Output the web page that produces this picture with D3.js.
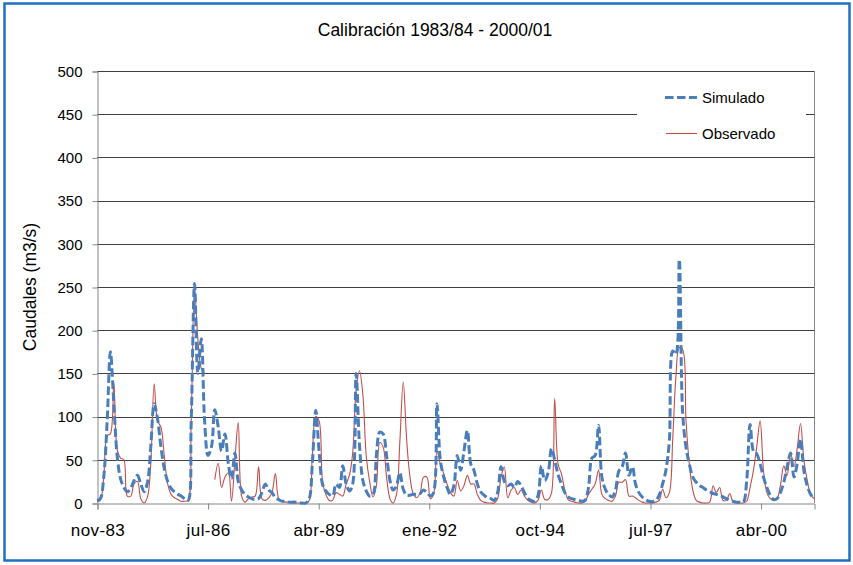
<!DOCTYPE html>
<html>
<head>
<meta charset="utf-8">
<script src="https://cdn.jsdelivr.net/npm/d3@7"></script>
<style>
  html, body { margin: 0; padding: 0; background: #fff; }
  svg { display: block; font-family: "Liberation Sans", Arial, sans-serif; }
</style>
</head>
<body>
<svg id="chart" width="853" height="565"></svg>
<script>
// ---- DATA (monthly, starting nov-83) ----
const startMonth = new Date(1983, 10, 1);
const seriesNames = ["Simulado", "Observado"];
const simulado = [
  3,5,30,95,175,115,55,28,18,13,17,26,32,22,13,25,65,115,98,65,
  40,25,17,13,10,8,5,3,90,254,150,190,95,55,65,108,88,60,80,45,
  28,58,25,15,10,7,5,4,5,12,22,15,12,6,4,2,2,1,1,1,
  0,0,0,5,45,107,60,22,14,10,8,22,18,43,22,14,22,150,68,26,
  14,8,10,55,82,80,55,26,15,20,35,16,9,9,10,10,11,15,12,8,
  12,115,50,30,18,10,20,55,38,60,84,45,38,22,13,9,6,5,3,12,
  42,25,20,22,18,25,20,12,5,3,2,8,43,26,35,63,50,33,22,12,
  7,5,4,3,2,3,18,52,55,90,30,16,10,7,15,37,42,58,32,42,
  22,12,7,4,2,1.5,3,9,22,38,72,176,172,282,105,64,45,30,24,20,
  18,15,13,11,10,9,7,5,3,2,1,1,1,25,91,60,57,45,30,18,
  9,4,5,12,24,42,58,30,45,74,38,20,10,5
];
const observado = [
  2,3,30,78,80,140,62,52,50,8,8,22,25,5,0,8,45,138,95,88,
  55,22,10,6,4,2,2,3,90,248,190,156,150,null,null,27,46,18,30,35,
  2,50,93,8,1,5,7,8,42,5,3,6,12,34,5,2,1,1,0,0,
  0,0,0,3,55,100,95,25,10,3,3,12,10,8,22,33,58,130,153,125,
  55,25,7,20,70,65,30,5,0,10,70,140,75,30,10,6,12,30,30,5,
  10,60,45,34,22,12,8,26,14,20,32,22,22,10,3,1,0,0,0,5,
  30,42,6,15,18,10,15,8,3,1,0,3,15,4,4,12,121,45,34,15,
  4,2,1,0,0,2,10,16,22,38,10,5,3,2,8,24,24,27,8,8,
  6,3,1,0,0,0,1,3,16,6,12,75,145,180,178,95,45,15,3,1,
  0,0,1,20,12,18,3,3,11,1,0,0,0,2,18,38,65,95,38,12,
  5,3,5,20,43,32,58,42,62,92,50,26,10,5
];
const xTickLabels = ["nov-83","jul-86","abr-89","ene-92","oct-94","jul-97","abr-00"];
const yTicks = [0,50,100,150,200,250,300,350,400,450,500];
const titleText = "Calibración 1983/84 - 2000/01";
const yTitle = "Caudales (m3/s)";

// ---- LAYOUT ----
const svg = d3.select("#chart");
const W = 853, H = 565;
const m = { left: 97, right: 814, top: 71, bottom: 503 };

const dates = simulado.map((_, i) => d3.timeMonth.offset(startMonth, i));
const x = d3.scaleTime()
  .domain([dates[0], dates[dates.length - 1]])
  .range([m.left, m.right]);
const y = d3.scaleLinear().domain([0, 500]).range([m.bottom, m.top]);

// outer frame
svg.append("rect").attr("x", 0).attr("y", 0).attr("width", W).attr("height", H).attr("fill", "#fff");
svg.append("rect").attr("x", 4.5).attr("y", 3.5).attr("width", 845).attr("height", 557)
  .attr("fill", "none").attr("stroke", "#1F6FC6").attr("stroke-width", 2.5);

// title
svg.append("text").attr("x", 435).attr("y", 36).attr("text-anchor", "middle")
  .attr("font-size", 17.5).attr("fill", "#000").text(titleText);

// gridlines
svg.append("g").selectAll("line").data(yTicks.filter(v => v > 0)).join("line")
  .attr("x1", m.left).attr("x2", m.right)
  .attr("y1", d => Math.round(y(d)) + 0.5).attr("y2", d => Math.round(y(d)) + 0.5)
  .attr("stroke", "#404040").attr("stroke-width", 1);

// y axis
const yAxis = d3.axisLeft(y).tickValues(yTicks).tickSize(5).tickPadding(10)
  .tickFormat(d3.format("d"));
const gy = svg.append("g").attr("transform", `translate(${m.left + 0.5},0.5)`).call(yAxis);
gy.select(".domain").attr("stroke", "#868686");
gy.selectAll(".tick line").attr("stroke", "#868686");
gy.selectAll("text").attr("font-size", 15).attr("fill", "#000")
  .attr("font-family", "Liberation Sans, Arial, sans-serif");

// right border of plot area
svg.append("line").attr("x1", m.right + 0.5).attr("x2", m.right + 0.5)
  .attr("y1", m.top).attr("y2", m.bottom).attr("stroke", "#868686");

// x axis
const xTickValues = xTickLabels.map((_, k) => d3.timeDay.offset(startMonth, 1000 * k));
const xAxis = d3.axisBottom(x).tickValues(xTickValues).tickSize(6).tickPadding(14)
  .tickFormat((d, i) => xTickLabels[i]);
const gx = svg.append("g").attr("transform", `translate(0.5,${m.bottom + 0.5})`).call(xAxis);
gx.select(".domain").attr("stroke", "#868686");
gx.selectAll(".tick line").attr("stroke", "#868686");
gx.selectAll("text").attr("font-size", 17).attr("fill", "#000")
  .attr("letter-spacing", 0.4)
  .attr("font-family", "Liberation Sans, Arial, sans-serif");

// y title
svg.append("text")
  .attr("transform", `translate(36,287) rotate(-90)`)
  .attr("text-anchor", "middle").attr("font-size", 17.5).attr("fill", "#000")
  .text(yTitle);

// lines
const curve = d3.curveCatmullRom.alpha(0.5);
const lineSim = d3.line()
  .x((d, i) => x(dates[i])).y(d => y(d)).curve(curve);
const lineObs = d3.line()
  .defined(d => d !== null)
  .x((d, i) => x(dates[i])).y(d => y(d)).curve(curve);

svg.append("path").datum(observado).attr("d", lineObs)
  .attr("fill", "none").attr("stroke", "#C0504D").attr("stroke-width", 1.1);
svg.append("path").datum(simulado).attr("d", lineSim)
  .attr("fill", "none").attr("stroke", "#4A7EBB").attr("stroke-width", 3)
  .attr("stroke-dasharray", "8.5,3.5");

// legend
const lg = svg.append("g");
lg.append("rect").attr("x", 637).attr("y", 80).attr("width", 169).attr("height", 68).attr("fill", "#fff");
lg.append("line").attr("x1", 665).attr("x2", 697).attr("y1", 97.5).attr("y2", 97.5)
  .attr("stroke", "#4A7EBB").attr("stroke-width", 3).attr("stroke-dasharray", "8.5,3.5");
lg.append("text").attr("x", 702).attr("y", 103).attr("font-size", 15).attr("fill", "#000").text(seriesNames[0]);
lg.append("line").attr("x1", 666).attr("x2", 697).attr("y1", 133.5).attr("y2", 133.5)
  .attr("stroke", "#C0504D").attr("stroke-width", 1.1);
lg.append("text").attr("x", 702).attr("y", 139).attr("font-size", 15).attr("fill", "#000").text(seriesNames[1]);
</script>
</body>
</html>
